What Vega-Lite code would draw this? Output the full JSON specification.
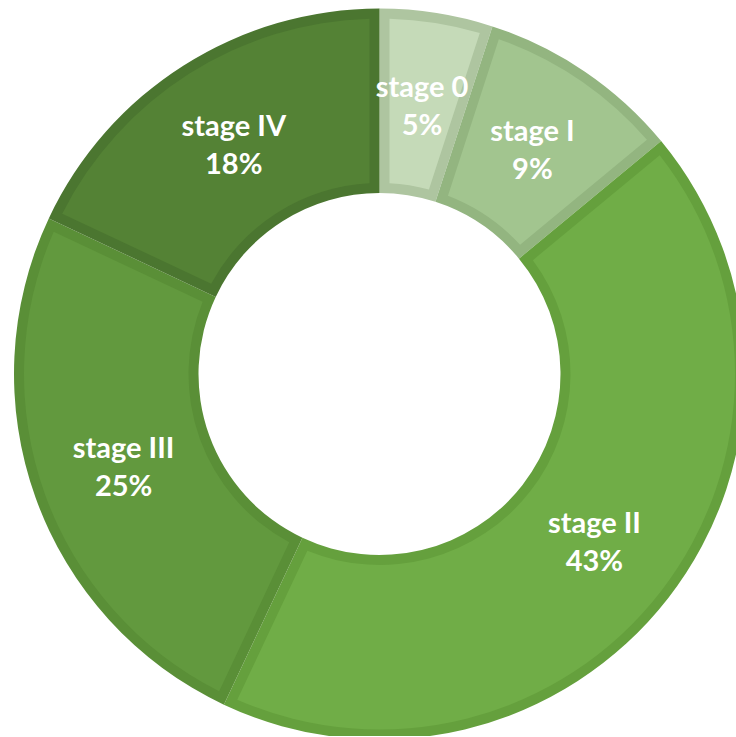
{
  "$schema": "https://vega.github.io/schema/vega-lite/v6.json",
  "width": 713,
  "height": 724,
  "autosize": {"type": "none"},
  "padding": {"left": 23, "top": 12, "right": 0, "bottom": 0},
  "background": "white",
  "view": {"stroke": null},
  "data": {
    "values": [
      {"stage": "stage 0", "pct": 5, "order": 1, "label": "stage 0\n5%"},
      {"stage": "stage I", "pct": 9, "order": 2, "label": "stage I\n9%"},
      {"stage": "stage II", "pct": 43, "order": 3, "label": "stage II\n43%"},
      {"stage": "stage III", "pct": 25, "order": 4, "label": "stage III\n25%"},
      {"stage": "stage IV", "pct": 18, "order": 5, "label": "stage IV\n18%"}
    ]
  },
  "encoding": {
    "theta": {"field": "pct", "type": "quantitative", "stack": true},
    "order": {"field": "order", "type": "quantitative"}
  },
  "layer": [
    {
      "mark": {"type": "arc", "outerRadius": 365.5, "innerRadius": 181},
      "encoding": {
        "color": {
          "field": "stage",
          "type": "nominal",
          "scale": {
            "domain": ["stage 0", "stage I", "stage II", "stage III", "stage IV"],
            "range": ["#AEC5A0", "#93B580", "#65A03D", "#5A8F37", "#4B7630"]
          },
          "legend": null
        }
      }
    },
    {
      "mark": {"type": "arc", "outerRadius": 355.5, "innerRadius": 191, "padAngle": 0.0496},
      "encoding": {
        "color": {
          "field": "stage",
          "type": "nominal",
          "scale": {
            "domain": ["stage 0", "stage I", "stage II", "stage III", "stage IV"],
            "range": ["#C5DAB8", "#A2C58F", "#70AD47", "#62993E", "#548235"]
          },
          "legend": null
        }
      }
    },
    {
      "mark": {
        "type": "text",
        "radius": 272,
        "dy": -17,
        "font": "Lato",
        "fontWeight": "bold",
        "fontSize": 29,
        "lineHeight": 38,
        "lineBreak": "\n",
        "align": "center",
        "baseline": "middle",
        "fill": "white"
      },
      "encoding": {
        "text": {"field": "label", "type": "nominal"}
      }
    }
  ],
  "resolve": {"scale": {"color": "independent"}}
}
